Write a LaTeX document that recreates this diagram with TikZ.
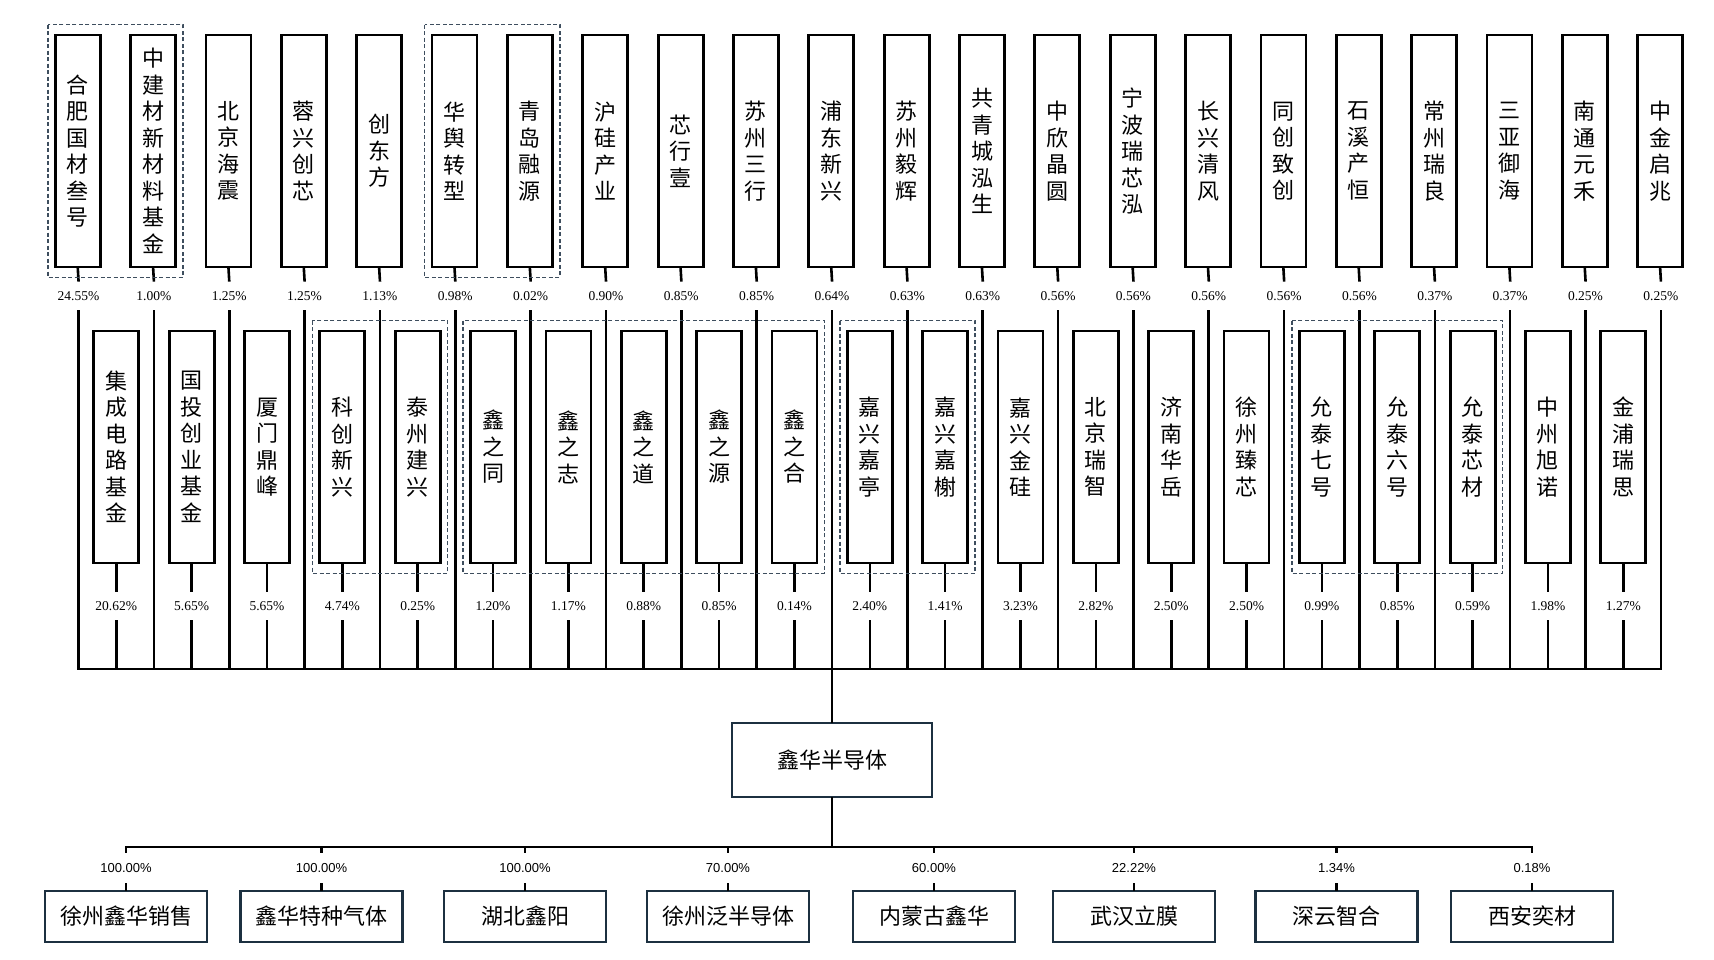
\documentclass[tikz,border=0pt]{standalone}
\usepackage{fontspec}
\newfontfamily\cjk{Noto Sans CJK SC}
\newfontfamily\pserif{Liberation Serif}
\newfontfamily\psans{Liberation Sans}
\usetikzlibrary{calc}
\definecolor{dashc}{RGB}{62,78,94}
\definecolor{navyc}{RGB}{28,48,64}
\begin{document}
\begin{tikzpicture}[x=1pt,y=-1pt,
  conn/.style={draw=black,line width=2.6pt,line cap=rect},
  vbox/.style={draw=black,line width=2.8pt,minimum width=45pt,minimum height=232pt,inner sep=0pt,align=center,font=\cjk\fontsize{22}{26.5}\selectfont},
  hbox/.style={draw=navyc,line width=2.8pt,minimum width=162pt,minimum height=51pt,inner sep=0pt,font=\cjk\fontsize{22}{26}\selectfont},
  cbox/.style={hbox,minimum width=200pt,minimum height=74pt},
  pctT/.style={inner sep=0pt,minimum height=31pt,font=\pserif\fontsize{13.5}{14}\selectfont},
  pctB/.style={inner sep=0pt,minimum height=32pt,font=\psans\fontsize{13}{14}\selectfont},
  grp/.style={draw=dashc,line width=1.4pt,dash pattern=on 4pt off 2.5pt}]
\useasboundingbox (0,0) rectangle (1714,960);
\fill[white] (0,0) rectangle (1714,960);
\coordinate (busL) at (77.8,669);
\coordinate (busR) at (1660.2,669);
% top row
\foreach \i/\t/\p in {1/合\\肥\\国\\材\\叁\\号/24.55,2/中\\建\\材\\新\\材\\料\\基\\金/1.00,3/北\\京\\海\\震/1.25,4/蓉\\兴\\创\\芯/1.25,5/创\\东\\方/1.13,6/华\\舆\\转\\型/0.98,7/青\\岛\\融\\源/0.02,8/沪\\硅\\产\\业/0.90,9/芯\\行\\壹/0.85,10/苏\\州\\三\\行/0.85,11/浦\\东\\新\\兴/0.64,12/苏\\州\\毅\\辉/0.63,13/共\\青\\城\\泓\\生/0.63,14/中\\欣\\晶\\圆/0.56,15/宁\\波\\瑞\\芯\\泓/0.56,16/长\\兴\\清\\风/0.56,17/同\\创\\致\\创/0.56,18/石\\溪\\产\\恒/0.56,19/常\\州\\瑞\\良/0.37,20/三\\亚\\御\\海/0.37,21/南\\通\\元\\禾/0.25,22/中\\金\\启\\兆/0.25}{
  \node[vbox] (t\i) at ({77.8+75.35*(\i-1)},151) {\t};
  \node[pctT] (pt\i) at ({78.5+75.35*(\i-1)},296) {\p\%};
  \draw[conn] (t\i.south) -- (pt\i.north);
  \draw[conn] (pt\i.south) -- (pt\i.south |- busL);
}
% middle row
\foreach \i/\t/\p in {1/集\\成\\电\\路\\基\\金/20.62,2/国\\投\\创\\业\\基\\金/5.65,3/厦\\门\\鼎\\峰/5.65,4/科\\创\\新\\兴/4.74,5/泰\\州\\建\\兴/0.25,6/鑫\\之\\同/1.20,7/鑫\\之\\志/1.17,8/鑫\\之\\道/0.88,9/鑫\\之\\源/0.85,10/鑫\\之\\合/0.14,11/嘉\\兴\\嘉\\亭/2.40,12/嘉\\兴\\嘉\\榭/1.41,13/嘉\\兴\\金\\硅/3.23,14/北\\京\\瑞\\智/2.82,15/济\\南\\华\\岳/2.50,16/徐\\州\\臻\\芯/2.50,17/允\\泰\\七\\号/0.99,18/允\\泰\\六\\号/0.85,19/允\\泰\\芯\\材/0.59,20/中\\州\\旭\\诺/1.98,21/金\\浦\\瑞\\思/1.27}{
  \node[vbox] (m\i) at ({116.3+75.35*(\i-1)},447) {\t};
  \node[pctT] (pm\i) at ({116.3+75.35*(\i-1)},606) {\p\%};
  \draw[conn] (m\i.south) -- (pm\i.north);
  \draw[conn] (pm\i.south) -- (pm\i.south |- busL);
}
\draw[conn] (busL) -- (busR);
% centre
\node[cbox] (c) at (832,760) {鑫华半导体};
\draw[conn] (c.north) -- (c.north |- busL);
\coordinate (bbL) at (126,847);
\coordinate (bbR) at (1532,847);
\draw[conn] (c.south) -- (c.south |- bbL);
\draw[conn] (bbL) -- (bbR);
% bottom row
\foreach \i/\x/\t/\p in {1/126/徐州鑫华销售/100.00,2/321.5/鑫华特种气体/100.00,3/525/湖北鑫阳/100.00,4/728/徐州泛半导体/70.00,5/934/内蒙古鑫华/60.00,6/1134/武汉立膜/22.22,7/1336.5/深云智合/1.34,8/1532/西安奕材/0.18}{
  \node[hbox] (b\i) at (\x,916.5) {\t};
  \node[pctB] (pb\i) at (\x,868) {\p\%};
  \draw[conn] (b\i.north) -- (pb\i.south);
  \draw[conn] (pb\i.north) -- (pb\i.north |- bbL);
}
% dashed groups
\draw[grp] ($(t1.north west)+(-6,-9)$) rectangle ($(t2.south east)+(6,9)$);
\draw[grp] ($(t6.north west)+(-6,-9)$) rectangle ($(t7.south east)+(6,9)$);
\draw[grp] ($(m4.north west)+(-6,-9)$) rectangle ($(m5.south east)+(6,9)$);
\draw[grp] ($(m6.north west)+(-6,-9)$) rectangle ($(m10.south east)+(6,9)$);
\draw[grp] ($(m11.north west)+(-6,-9)$) rectangle ($(m12.south east)+(6,9)$);
\draw[grp] ($(m17.north west)+(-6,-9)$) rectangle ($(m19.south east)+(6,9)$);
\end{tikzpicture}
\end{document}
